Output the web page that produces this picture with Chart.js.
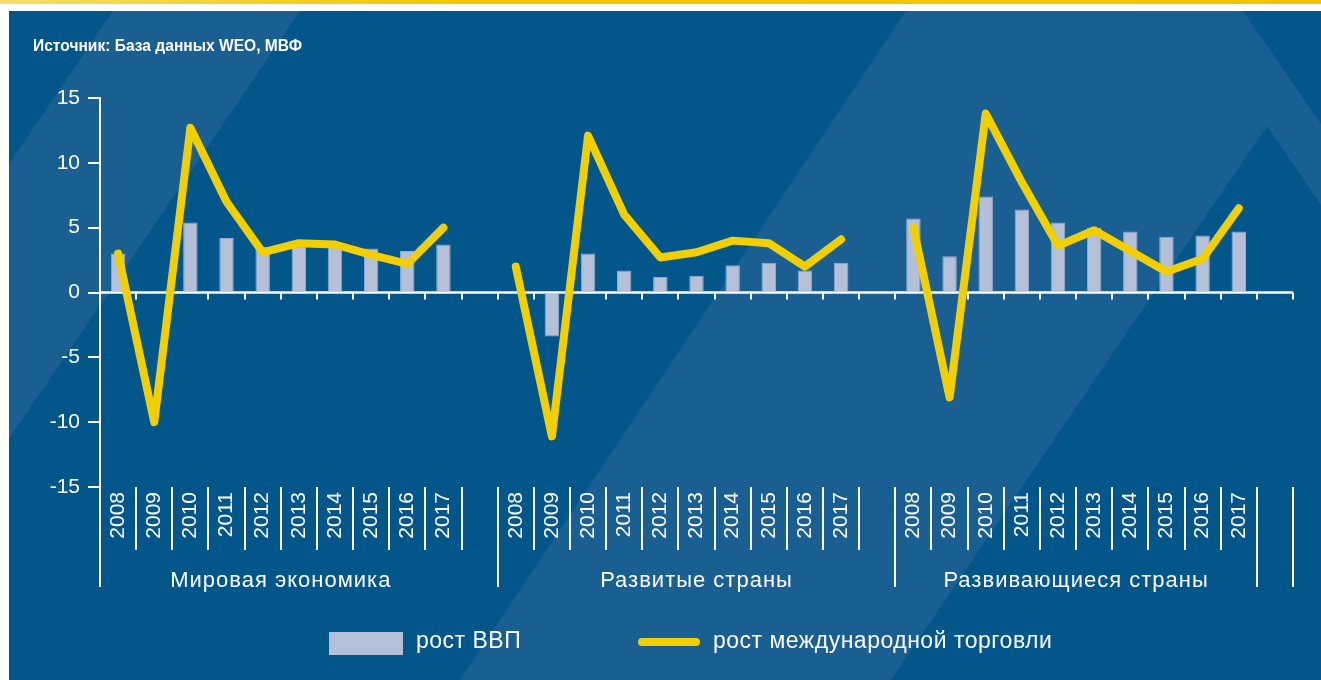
<!DOCTYPE html>
<html lang="ru">
<head>
<meta charset="utf-8">
<title>Рост ВВП и международной торговли</title>
<script src="https://cdn.jsdelivr.net/npm/chart.js@4.4.1/dist/chart.umd.min.js"></script>
<style>
  html, body { margin: 0; padding: 0; background: #fff; }
  canvas { display: block; }
</style>
</head>
<body>
<canvas id="tradeChart" width="1321" height="680"></canvas>
<script>
const sourceNote = 'Источник: База данных WEO, МВФ';
const years = ['2008', '2009', '2010', '2011', '2012', '2013', '2014', '2015', '2016', '2017'];
const groupNames = ['Мировая экономика', 'Развитые страны', 'Развивающиеся страны'];

// рост ВВП, %
const gdpWorld = [3.0, -0.1, 5.4, 4.2, 3.5, 3.5, 3.6, 3.4, 3.2, 3.7];
const gdpAdvanced = [0.1, -3.4, 3.0, 1.7, 1.2, 1.3, 2.1, 2.3, 1.7, 2.3];
const gdpEmerging = [5.7, 2.8, 7.4, 6.4, 5.4, 5.0, 4.7, 4.3, 4.4, 4.7];

// рост международной торговли, %
const tradeWorld = [3.0, -10.0, 12.7, 7.0, 3.1, 3.8, 3.7, 2.9, 2.2, 5.0];
const tradeAdvanced = [2.0, -11.1, 12.1, 6.0, 2.7, 3.1, 4.0, 3.8, 2.0, 4.1];
const tradeEmerging = [5.0, -8.1, 13.8, 8.5, 3.6, 4.8, 3.2, 1.6, 2.6, 6.5];

const legendLabels = ['рост ВВП', 'рост международной торговли'];

// each group takes 10 years plus one empty slot
const labels = [...years, '', ...years, '', ...years, ''];
const gdpSeries = [...gdpWorld, null, ...gdpAdvanced, null, ...gdpEmerging, null];
const tradeSeries = [...tradeWorld, null, ...tradeAdvanced, null, ...tradeEmerging, null];

// slot ranges for the group captions and the long separators
const groupSpans = [[0, 10], [11, 22], [22, 32]];
const longEdges = [11, 22, 32, 33];

const BG = '#02568a';
const BG_LIGHT = '#1a5f91';
const BAR = '#b4bfd8';
const YELLOW = '#f2cf00';
const FONT = '"Liberation Sans", Arial, sans-serif';

function poly(ctx, pts) {
  ctx.beginPath();
  pts.forEach(([px, py], i) => (i ? ctx.lineTo(px, py) : ctx.moveTo(px, py)));
  ctx.closePath();
  ctx.fill();
}

function seg(ctx, x1, y1, x2, y2) {
  ctx.beginPath();
  ctx.moveTo(x1, y1);
  ctx.lineTo(x2, y2);
  ctx.stroke();
}

const decorPlugin = {
  id: 'decor',
  beforeDraw(chart) {
    const { ctx, width, height } = chart;
    ctx.save();
    ctx.fillStyle = '#fff';
    ctx.fillRect(0, 0, width, height);
    const grad = ctx.createLinearGradient(0, 0, width, 0);
    grad.addColorStop(0, '#f8dc66');
    grad.addColorStop(0.35, '#f2c600');
    grad.addColorStop(1, '#f2c400');
    ctx.fillStyle = grad;
    ctx.fillRect(0, 0, width, 4);

    ctx.beginPath();
    ctx.rect(9, 11, width - 9, height - 11);
    ctx.clip();
    ctx.fillStyle = BG;
    ctx.fillRect(9, 11, width - 9, height - 11);
    ctx.fillStyle = BG_LIGHT;
    poly(ctx, [[113, 11], [300, 11], [9, 439], [9, 164]]);
    poly(ctx, [[906, 11], [1243, 11], [1321, 124], [1321, 205], [1267, 126], [891, 680], [460, 680]]);

    ctx.fillStyle = '#fff';
    ctx.font = 'bold 17px "Liberation Sans Narrow", ' + FONT;
    ctx.textBaseline = 'alphabetic';
    ctx.fillText(sourceNote, 33, 51, 269);
    ctx.restore();
  },
  beforeDatasetsDraw(chart) {
    const { ctx, chartArea, scales: { x, y } } = chart;
    const step = x.getPixelForValue(1) - x.getPixelForValue(0);
    const start = x.getPixelForValue(0) - step / 2;
    const y0 = y.getPixelForValue(0);
    ctx.save();
    ctx.strokeStyle = '#fff';
    ctx.lineWidth = 2.5;
    seg(ctx, chartArea.left, y0, chartArea.right, y0);
    ctx.lineWidth = 2;
    for (let i = 1; i <= labels.length; i++) {
      const px = Math.round(start + i * step);
      seg(ctx, px, y0, px, y0 + 7);
    }
    ctx.restore();
  },
  afterDraw(chart) {
    const { ctx, chartArea, scales: { x } } = chart;
    const step = x.getPixelForValue(1) - x.getPixelForValue(0);
    const start = x.getPixelForValue(0) - step / 2;
    const edge = i => start + i * step;
    const bottom = chartArea.bottom;
    ctx.save();
    ctx.strokeStyle = '#fff';
    ctx.lineWidth = 2;
    seg(ctx, chartArea.left, bottom, chartArea.left, 587);
    for (let i = 1; i <= labels.length; i++) {
      const px = Math.round(edge(i));
      seg(ctx, px, bottom, px, longEdges.includes(i) ? 587 : 550);
    }

    ctx.fillStyle = '#fff';
    ctx.font = '22px ' + FONT;
    ctx.letterSpacing = '1px';
    ctx.textAlign = 'center';
    ctx.textBaseline = 'alphabetic';
    groupSpans.forEach(([a, b], i) => {
      ctx.fillText(groupNames[i], (edge(a) + edge(b)) / 2, 587);
    });

    // legend
    ctx.fillStyle = BAR;
    ctx.fillRect(329, 632, 74, 23);
    ctx.strokeStyle = YELLOW;
    ctx.lineWidth = 8;
    ctx.lineCap = 'round';
    seg(ctx, 642, 642, 696, 642);
    ctx.fillStyle = '#fff';
    ctx.font = '23px ' + FONT;
    ctx.letterSpacing = '0.5px';
    ctx.textAlign = 'left';
    ctx.textBaseline = 'middle';
    ctx.fillText(legendLabels[0], 416, 642);
    ctx.fillText(legendLabels[1], 713, 642);
    ctx.restore();
  }
};

new Chart(document.getElementById('tradeChart'), {
  type: 'bar',
  data: {
    labels,
    datasets: [
      {
        type: 'line',
        label: legendLabels[1],
        data: tradeSeries,
        borderColor: YELLOW,
        backgroundColor: YELLOW,
        borderWidth: 8,
        borderCapStyle: 'round',
        borderJoinStyle: 'round',
        pointRadius: 0,
        tension: 0,
        spanGaps: false,
        order: 0,
      },
      {
        label: legendLabels[0],
        data: gdpSeries,
        backgroundColor: BAR,
        borderColor: '#9aabc9',
        borderWidth: 1,
        barPercentage: 0.8,
        categoryPercentage: 0.5,
        order: 1,
      },
    ],
  },
  options: {
    responsive: false,
    animation: false,
    devicePixelRatio: 1,
    layout: { padding: { top: 98, right: 28, bottom: 0, left: 0 } },
    plugins: {
      legend: { display: false },
      tooltip: { enabled: false },
    },
    scales: {
      x: {
        grid: { display: false },
        border: { display: false },
        ticks: {
          color: '#fff',
          font: { family: FONT, size: 21 },
          autoSkip: false,
          minRotation: 90,
          maxRotation: 90,
          padding: -3,
        },
        afterFit: s => { s.height = 193; },
      },
      y: {
        min: -15,
        max: 15,
        ticks: {
          stepSize: 5,
          color: '#fff',
          font: { family: FONT, size: 21 },
          padding: 8,
        },
        grid: { drawOnChartArea: false, color: '#fff', lineWidth: 2, tickLength: 12 },
        border: { color: '#fff', width: 2 },
        afterFit: s => { s.width = 100; },
      },
    },
  },
  plugins: [decorPlugin],
});
</script>
</body>
</html>
